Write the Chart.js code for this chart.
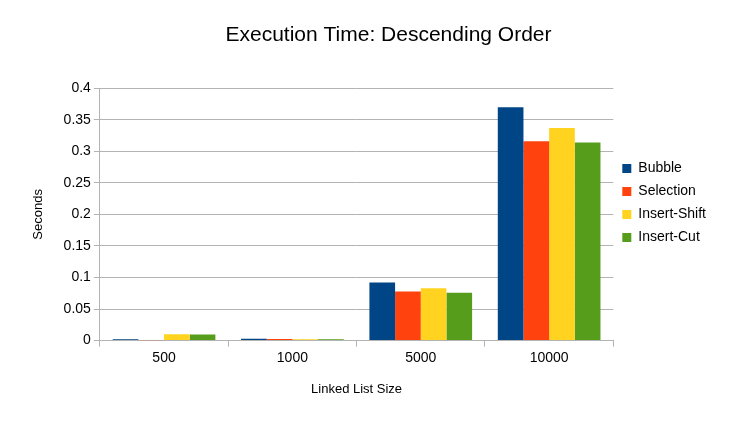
<!DOCTYPE html>
<html><head><meta charset="utf-8">
<script src="https://cdn.jsdelivr.net/npm/chart.js@4"></script>
<style>body{margin:0;background:#fff}#w{width:756px;height:425px}</style>
</head><body><div id="w"><canvas id="c"></canvas></div>
<script>
const sizes = ["500", "1000", "5000", "10000"];
const bubble = [0.002, 0.003, 0.092, 0.370];
const selection = [0.0007, 0.0025, 0.078, 0.316];
const insertShift = [0.010, 0.002, 0.083, 0.337];
const insertCut = [0.0095, 0.002, 0.076, 0.314];

const ds = (label, data, color) => ({ label, data, backgroundColor: color, categoryPercentage: 0.8, barPercentage: 1 });

// widen the legend box so the plot ends where the reference does
const widenLegend = {
  id: 'widenLegend',
  beforeInit(chart) {
    const lg = chart.legend, f = lg.fit;
    lg.fit = function () { f.call(this); this.width += 34; };
  }
};

new Chart(document.getElementById('c'), {
  type: 'bar',
  data: {
    labels: sizes,
    datasets: [
      ds('Bubble', bubble, '#004586'),
      ds('Selection', selection, '#ff420e'),
      ds('Insert-Shift', insertShift, '#ffd320'),
      ds('Insert-Cut', insertCut, '#579d1c')
    ]
  },
  plugins: [widenLegend],
  options: {
    responsive: true, maintainAspectRatio: false, animation: false,
    layout: { padding: { left: 27, right: 6, top: 5, bottom: 24 } },
    plugins: {
      title: { display: true, text: 'Execution Time: Descending Order', color: '#000',
        font: { family: 'Liberation Sans', size: 21, weight: 'normal' }, padding: { top: 18, bottom: 40 } },
      legend: { position: 'right', labels: { boxWidth: 9, boxHeight: 9, color: '#000',
        font: { family: 'Liberation Sans', size: 14 }, padding: 9 } },
      tooltip: { enabled: false }
    },
    scales: {
      x: { grid: { display: true, drawOnChartArea: false, color: '#b3b3b3', offset: true, tickLength: 6 },
        border: { color: '#b3b3b3' },
        ticks: { color: '#000', font: { family: 'Liberation Sans', size: 14 } },
        title: { display: true, text: 'Linked List Size', color: '#000', font: { family: 'Liberation Sans', size: 13 }, padding: { top: 12 } } },
      y: { min: 0, max: 0.4, grid: { color: '#b3b3b3', tickLength: 6 }, border: { color: '#b3b3b3' },
        ticks: { stepSize: 0.05, color: '#000', font: { family: 'Liberation Sans', size: 14 },
          callback: v => +v.toFixed(2) + '' },
        title: { display: true, text: 'Seconds', color: '#000', font: { family: 'Liberation Sans', size: 13 }, padding: { bottom: 14 } } }
    }
  }
});
</script></body></html>
